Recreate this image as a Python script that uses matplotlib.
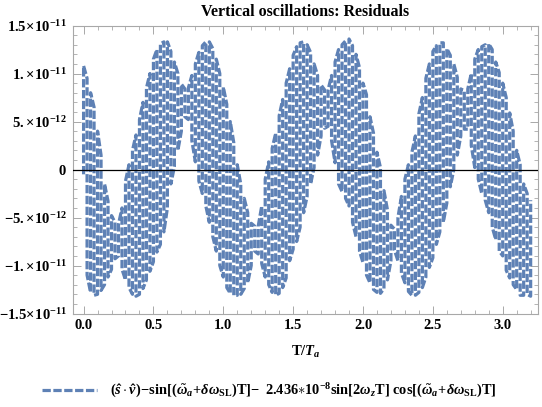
import matplotlib
matplotlib.use("Agg")
import matplotlib.pyplot as plt
import numpy as np
from matplotlib.ticker import FixedLocator, MultipleLocator

# ---------------- data (values in units of 1e-12) ----------------
# T/Ta sample positions of the fast-oscillation strokes
t_vals = [0.000, 0.025, 0.050, 0.075, 0.100, 0.125, 0.150, 0.175, 0.200, 0.225,
          0.250, 0.275, 0.300, 0.325, 0.350, 0.375, 0.400, 0.425, 0.450, 0.475,
          0.500, 0.525, 0.550, 0.575, 0.600, 0.625, 0.650, 0.675, 0.700, 0.725,
          0.750, 0.775, 0.800, 0.825, 0.850, 0.875, 0.900, 0.925, 0.950, 0.975,
          1.000, 1.025, 1.050, 1.075, 1.100, 1.125, 1.150, 1.175, 1.200, 1.225,
          1.250, 1.275, 1.300, 1.325, 1.350, 1.375, 1.400, 1.425, 1.450, 1.475,
          1.500, 1.525, 1.550, 1.575, 1.600, 1.625, 1.650, 1.675, 1.700, 1.725,
          1.750, 1.775, 1.800, 1.825, 1.850, 1.875, 1.900, 1.925, 1.950, 1.975,
          2.000, 2.025, 2.050, 2.075, 2.100, 2.125, 2.150, 2.175, 2.200, 2.225,
          2.250, 2.275, 2.300, 2.325, 2.350, 2.375, 2.400, 2.425, 2.450, 2.475,
          2.500, 2.525, 2.550, 2.575, 2.600, 2.625, 2.650, 2.675, 2.700, 2.725,
          2.750, 2.775, 2.800, 2.825, 2.850, 2.875, 2.900, 2.925, 2.950, 2.975,
          3.000, 3.025, 3.050, 3.075, 3.100, 3.125, 3.150, 3.175, 3.200]

# upper turning points (maxima) of the oscillation
upper = [10.8, 9.5, 8.0, 6.5, 4.0, 1.5, -1.5, -3.3, -4.8, -5.5,
         -5.7, -4.0, -1.2, 0.5, 2.0, 3.6, 5.2, 7.0, 8.5, 10.0,
         11.5, 12.5, 13.1, 13.3, 13.3, 12.3, 11.2, 10.0, 8.9, 8.4,
         8.5, 9.8, 11.0, 12.2, 12.9, 13.3, 13.3, 12.6, 11.5, 10.0,
         8.6, 6.8, 5.0, 2.8, 0.5, -1.5, -3.0, -4.5, -5.6, -5.9,
         -5.9, -3.8, -1.0, 0.8, 2.2, 3.8, 5.6, 7.3, 9.0, 10.5,
         11.9, 12.8, 13.2, 13.3, 13.0, 12.2, 11.0, 9.8, 8.8, 8.3,
         8.3, 9.8, 11.2, 12.5, 13.0, 13.4, 13.6, 12.9, 12.0, 10.6,
         9.0, 7.8, 5.5, 3.8, 1.8, 0.2, -2.2, -4.2, -5.8, -6.2,
         -5.0, -2.8, -1.0, 0.5, 1.8, 3.5, 5.8, 7.5, 9.5, 11.0,
         12.3, 12.9, 13.2, 13.2, 12.6, 11.9, 11.0, 9.6, 8.4, 8.2,
         8.4, 10.0, 11.5, 12.5, 12.8, 13.0, 13.1, 12.5, 11.2, 10.1,
         9.0, 7.5, 5.9, 4.0, 2.0, 0.5, -1.5, -2.5, -3.2]

# lower turning points (minima) of the oscillation
lower = [-0.5, -11.0, -12.8, -13.1, -13.0, -12.6, -12.0, -11.2, -10.4, -9.3,
         -9.0, -10.4, -11.5, -12.3, -13.0, -13.2, -13.0, -12.4, -11.5, -10.6,
         -9.6, -8.6, -7.8, -6.5, -4.0, -1.5, 0.3, 2.0, 4.0, 5.5,
         5.2, 3.0, 0.8, -1.2, -2.5, -3.8, -5.5, -7.0, -8.5, -10.0,
         -11.2, -12.3, -12.9, -13.1, -13.1, -13.0, -12.4, -11.8, -10.0, -8.5,
         -8.8, -9.8, -11.2, -12.0, -12.8, -13.1, -12.9, -12.3, -11.3, -9.5,
         -8.3, -7.5, -6.0, -4.5, -2.8, -1.5, 0.2, 1.5, 3.5, 4.3,
         4.5, 3.0, 0.7, -1.5, -2.3, -3.0, -3.8, -5.5, -7.0, -8.5,
         -9.7, -11.0, -11.8, -12.5, -12.8, -12.9, -12.4, -11.5, -9.5, -8.4,
         -9.5, -10.8, -11.8, -12.7, -13.1, -13.1, -12.8, -12.3, -11.2, -10.2,
         -9.2, -7.8, -6.5, -5.5, -3.5, -1.8, 0.0, 1.5, 3.5, 4.2,
         4.2, 2.5, 0.2, -1.0, -2.5, -3.2, -4.5, -6.0, -7.3, -8.5,
         -9.0, -10.5, -11.3, -12.0, -12.5, -13.1, -13.1, -13.0, -13.2]

x_ticks = [0.0, 0.5, 1.0, 1.5, 2.0, 2.5, 3.0]
x_tick_labels = ["0.0", "0.5", "1.0", "1.5", "2.0", "2.5", "3.0"]
y_ticks = [-1.5e-11, -1e-11, -5e-12, 0.0, 5e-12, 1e-11, 1.5e-11]
y_tick_labels = [r"$-1.5\!\times\!10^{-11}$", r"$-1.\!\times\!10^{-11}$", r"$-5.\!\times\!10^{-12}$",
                 r"$0$", r"$5.\!\times\!10^{-12}$", r"$1.\!\times\!10^{-11}$", r"$1.5\!\times\!10^{-11}$"]

title = "Vertical oscillations: Residuals"
x_label = r"$\mathrm{T}/T_a$"
legend_label = (r"$(\hat{s}\cdot\hat{v})\!-\!\mathrm{sin}[(\tilde{\omega}_a\!+\!\delta\omega_{\mathrm{SL}})\mathrm{T}]"
                r"\!-\ 2.436{\ast}10^{-8}\mathrm{sin}[2\omega_z\mathrm{T}]\ \mathrm{cos}[(\tilde{\omega}_a\!+\!\delta\omega_{\mathrm{SL}})\mathrm{T}]$")

# ---------------- style ----------------
plt.rcParams["font.family"] = ["Liberation Serif", "DejaVu Serif"]
plt.rcParams["font.weight"] = "bold"
plt.rcParams["mathtext.fontset"] = "custom"
plt.rcParams["mathtext.rm"] = "Liberation Serif:bold"
plt.rcParams["mathtext.it"] = "Liberation Serif:bold:italic"
plt.rcParams["mathtext.bf"] = "Liberation Serif:bold"
plt.rcParams["mathtext.cal"] = "Liberation Serif:bold"
plt.rcParams["mathtext.sf"] = "Liberation Serif:bold"
plt.rcParams["mathtext.tt"] = "Liberation Serif:bold"

line_color = "#5E81B5"
frame_color = "#a8a8a8"

# the fast oscillation: alternate strokes min->max and max->min at each sample
t_series = []
y_series = []
for i, t in enumerate(t_vals):
    if i % 2 == 0:
        t_series += [t, t]
        y_series += [lower[i], upper[i]]
    else:
        t_series += [t, t]
        y_series += [upper[i], lower[i]]
t_series = np.array(t_series)
y_series = np.array(y_series) * 1e-12

fig = plt.figure(figsize=(5.42, 4.07), dpi=100)
ax = fig.add_axes([0.1341, 0.2297, 0.8594, 0.7076])

dash = (0, (2.6, 0.8))
ax.axhline(0, color="black", lw=0.9, zorder=3)
ln, = ax.plot(t_series, y_series, color=line_color, lw=2.3, linestyle=dash,
              dash_capstyle="butt", solid_joinstyle="miter", zorder=2)

ax.set_xlim(-0.078, 3.256)
ax.set_ylim(-1.5e-11, 1.5e-11)

ax.xaxis.set_major_locator(FixedLocator(x_ticks))
ax.set_xticklabels(x_tick_labels)
ax.xaxis.set_minor_locator(MultipleLocator(0.1))
ax.yaxis.set_major_locator(FixedLocator(y_ticks))
ax.set_yticklabels(y_tick_labels)
ax.yaxis.set_minor_locator(MultipleLocator(1e-12))

for sp in ax.spines.values():
    sp.set_color(frame_color)
    sp.set_linewidth(0.8)

ax.tick_params(which="both", direction="in", top=True, right=True,
               color=frame_color, labelcolor="black")
ax.tick_params(axis="x", labelsize=10.5)
ax.tick_params(axis="y", labelsize=10.5)
ax.tick_params(which="major", length=5.5, width=0.7, pad=4)
ax.tick_params(which="minor", length=3, width=0.6)

fig.text(0.5635, 1 - 11.5 / 407, title, fontsize=11.5, fontweight="bold",
         ha="center", va="center")
ax.set_xlabel(x_label, fontsize=10.5)
ax.xaxis.set_label_coords(0.5, (313.5 - 352) / 288.0)
ax.xaxis.label.set_va("center")

fig.legend(handles=[ln], labels=[legend_label], loc="center",
           bbox_to_anchor=(0.497, 1 - 391 / 407), frameon=False, fontsize=10.4,
           handlelength=3.8, handletextpad=0.95)

fig.savefig("out.png", dpi=100)
